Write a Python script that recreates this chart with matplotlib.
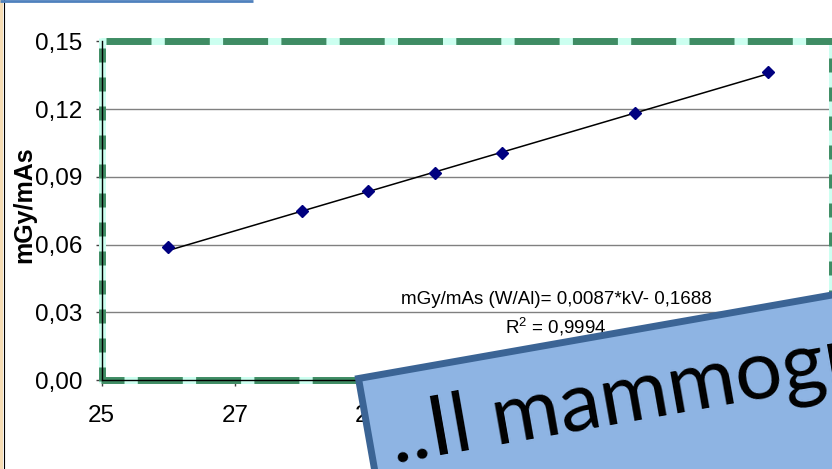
import numpy as np
import matplotlib
matplotlib.use('Agg')
import matplotlib.pyplot as plt
from matplotlib.lines import Line2D
from matplotlib.patches import Polygon, Rectangle

plt.rcParams['font.family'] = ['Liberation Sans', 'DejaVu Sans']
plt.rcParams['mathtext.fontset'] = 'custom'
plt.rcParams['mathtext.rm'] = 'Liberation Sans'
plt.rcParams['mathtext.default'] = 'regular'
plt.rcParams['lines.scale_dashes'] = False

# tube voltage (kV) vs output per mAs, W/Al spectrum
kv = [26, 28, 29, 30, 31, 33, 35]
dose = [0.0588, 0.0750, 0.0838, 0.0916, 0.1005, 0.1182, 0.1366]
slope, intercept = 0.0087, -0.1688
r2 = 0.9994
xticks = [25, 27, 29, 31, 33, 35]
yticks = [0.0, 0.03, 0.06, 0.09, 0.12, 0.15]

W, H = 832, 469
fig = plt.figure(figsize=(W / 100, H / 100), dpi=100)


def fx(x):
    return x / W


def fy(y):
    return 1 - y / H


# plot area in pixels
L, R, T, B = 101.7, 831.5, 41.5, 380.0
ax = fig.add_axes([fx(L), fy(B), fx(R) - fx(L), fy(T) - fy(B)])
ax.set_xlim(25, 25 + (R - L) / 66.65)
ax.set_ylim(0, 0.15)

ax.set_axisbelow(True)
ax.yaxis.grid(True, color='#808080', lw=1.0)
ax.set_yticks(yticks)
ax.set_yticklabels([f'{v:.2f}'.replace('.', ',') for v in yticks])
ax.set_xticks(xticks)
ax.set_xticklabels([str(v) for v in xticks])
ax.tick_params(axis='y', length=4.3, width=1, color='#404040', pad=9.4, labelsize=17.5)
ax.tick_params(axis='x', length=4.3, width=1, color='#404040', pad=14, labelsize=17.5)
for s in ['top', 'right']:
    ax.spines[s].set_visible(False)
for s in ['left', 'bottom']:
    ax.spines[s].set_color('black')
    ax.spines[s].set_linewidth(1.0)


def border(x0, y0, x1, y1, on, off, offset):
    # light base strip then green dashes on top (lengths in pixels)
    xs, ys = [fx(x0), fx(x1)], [fy(y0), fy(y1)]
    ax.add_line(Line2D(xs, ys, transform=fig.transFigure, color='#CCFFF0', lw=5.0,
                       solid_capstyle='butt', clip_on=False, zorder=2.2))
    period = on + off
    ls = ((offset % period) * 0.72, (on * 0.72, off * 0.72))
    ax.add_line(Line2D(xs, ys, transform=fig.transFigure, color='#3F8C64', lw=5.0,
                       linestyle=ls, dash_capstyle='butt', clip_on=False, zorder=2.3))


border(L - 1, T, R + 4, T, 45, 13.3, -5)
border(L - 1, B, R + 4, B, 45, 13.3, 22)
border(L, T - 3, L, B + 3, 14, 15, -10)
border(R, T - 3, R, B + 3, 14, 15, -20)

xs = np.array([kv[0], kv[-1]])
ax.plot(xs, slope * xs + intercept, color='black', lw=1.1, zorder=3)
ax.plot(kv, dose, ls='none', marker='D', ms=6, color='#000080', zorder=4)

eq = f'mGy/mAs (W/Al)= {slope:.4f}*kV- {abs(intercept):.4f}'.replace('.', ',')
ax.text(31.82, 0.0355, eq, ha='center', va='center', fontsize=13.5, zorder=4)
ax.text(31.82, 0.0235, 'R$^{2}$ = ' + f'{r2:.4f}'.replace('.', ','),
        ha='center', va='center', fontsize=13.5, zorder=4)

fig.text(fx(24), fy(205), 'mGy/mAs', rotation=90, ha='center', va='center',
         fontsize=18, fontweight='bold')

# page edges
fig.add_artist(Rectangle((0, 0), fx(2.5), 1, transform=fig.transFigure,
                         color='#F6DDB5', lw=0))
fig.add_artist(Line2D([fx(3.5), fx(3.5)], [0, 1], transform=fig.transFigure,
                      color='black', lw=0.8))
fig.add_artist(Line2D([0, fx(253)], [fy(1), fy(1)], transform=fig.transFigure,
                      color='#4F81BD', lw=2.0, solid_capstyle='butt'))

# tilted callout box
ang = np.radians(10)
ux, uy = np.cos(ang), -np.sin(ang)
vx, vy = np.sin(ang), np.cos(ang)
x0, y0 = 358.5, 378.5
bl, bh = 700, 300
corners = [(x0, y0), (x0 + bl * ux, y0 + bl * uy),
           (x0 + bl * ux + bh * vx, y0 + bl * uy + bh * vy), (x0 + bh * vx, y0 + bh * vy)]
box = Polygon([(fx(a), fy(b)) for a, b in corners], closed=True, transform=fig.transFigure,
              facecolor='#8EB4E3', edgecolor='#3B6495', lw=5.0, joinstyle='miter', zorder=5)
fig.add_artist(box)
fig.text(fx(394), fy(462), '..Il mammogr', rotation=10, rotation_mode='anchor',
         ha='left', va='baseline', fontsize=60, family=['Lato', 'DejaVu Sans'],
         color='black', zorder=6)

fig.savefig('out.png', dpi=100)
